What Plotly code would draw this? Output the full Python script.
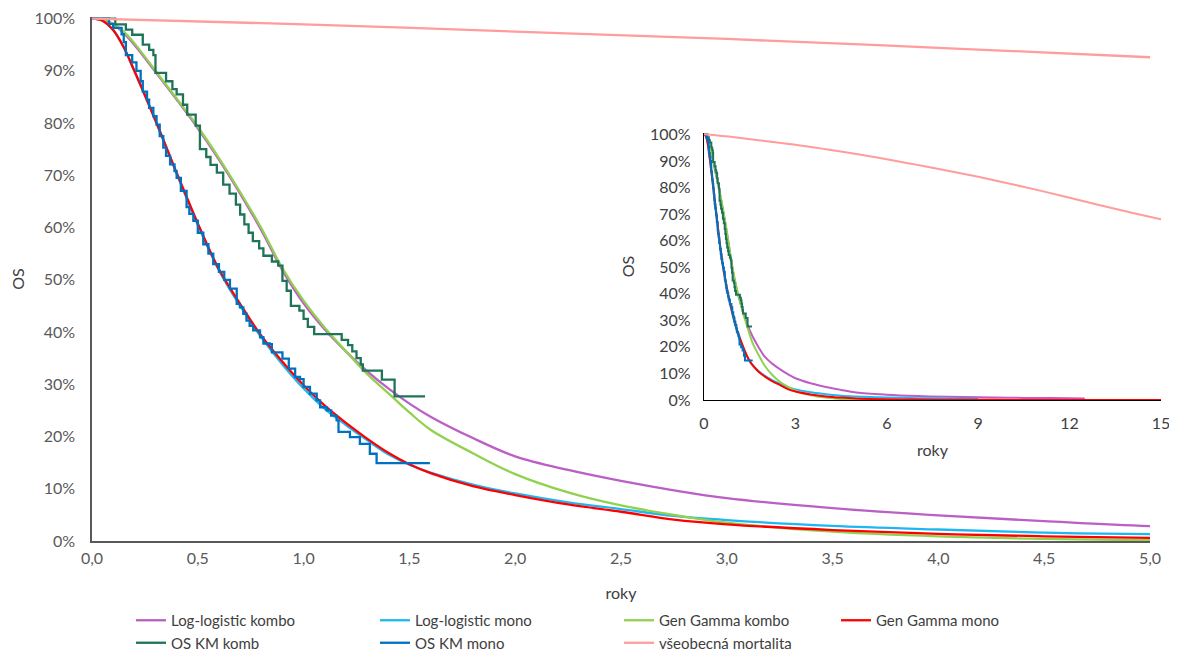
import plotly.graph_objects as go

# ---------------- data (survival in %) ----------------
t_fit = [0, 0.05, 0.1, 0.15, 0.2, 0.3, 0.4, 0.5, 0.6, 0.7, 0.8, 0.9, 1.0, 1.1, 1.2,
         1.3, 1.4, 1.5, 1.6, 1.8, 2.0, 2.25, 2.5, 2.75, 3.0, 3.5, 4.0, 4.5, 5.0,
         6, 7, 8, 9, 10, 11, 12, 12.5, 13, 14, 15]

ll_kombo = [100, 99.8, 98.9, 97.2, 95.0, 89.8, 84.5, 79.0, 73.0, 66.5, 59.5, 51.8, 45.5, 40.5, 36.3,
            32.5, 29.2, 26.3, 23.8, 19.7, 16.2, 13.6, 11.5, 9.7, 8.2, 6.3, 4.9, 3.8, 2.85,
            2.0, 1.5, 1.2, 1.0, 0.85, 0.75, 0.65, 0.6, None, None, None]

ll_mono = [100, 99.6, 97.8, 94.5, 90.0, 80.5, 70.3, 60.5, 51.8, 45.0, 39.0, 33.8, 29.2, 25.3, 22.2,
           19.3, 16.6, 14.6, 13.1, 10.8, 9.1, 7.4, 6.1, 4.8, 4.0, 2.9, 2.2, 1.6, 1.3,
           0.95, 0.7, 0.55, 0.45, None, None, None, None, None, None, None]

gg_kombo = [100, 99.8, 99.0, 97.5, 95.3, 90.0, 84.7, 79.3, 73.3, 66.8, 59.9, 52.2, 46.0, 40.8, 36.3,
            32.0, 28.3, 24.6, 21.3, 16.8, 12.8, 9.3, 6.8, 5.0, 3.5, 1.8, 0.9, 0.4, 0.15,
            0.03, 0.0, None, None, None, None, None, None, None, None, None]

gg_mono = [100, 99.6, 97.8, 94.5, 90.0, 80.5, 70.5, 60.8, 52.0, 45.4, 39.3, 34.3, 29.8, 25.9, 22.6,
           19.6, 16.9, 14.7, 13.0, 10.5, 8.8, 7.0, 5.6, 4.1, 3.2, 2.1, 1.35, 0.9, 0.6,
           0.3, 0.15, 0.1, 0.06, 0.04, 0.03, 0.02, 0.02, 0.01, 0.01, 0.0]

t_km_komb = [0, 0.11, 0.16, 0.19, 0.24, 0.27, 0.29, 0.30, 0.35, 0.38, 0.40, 0.43, 0.45, 0.49,
             0.51, 0.54, 0.56, 0.59, 0.62, 0.65, 0.68, 0.70, 0.72, 0.74, 0.76, 0.79, 0.81,
             0.85, 0.88, 0.90, 0.92, 0.94, 0.98, 1.00, 1.02, 1.05, 1.18, 1.21, 1.23, 1.25,
             1.27, 1.28, 1.37, 1.43, 1.574]
s_km_komb = [100, 98.9, 97.9, 96.9, 95.0, 94.0, 93.0, 89.6, 88.0, 86.5, 85.5, 83.5, 81.6, 79.5,
             75.0, 73.5, 72.0, 70.5, 68.2, 66.5, 64.4, 62.5, 60.6, 59.0, 57.4, 56.0, 54.6,
             53.5, 52.7, 49.8, 47.9, 45.0, 44.1, 42.5, 41.0, 39.6, 38.5, 37.5, 36.3, 35.0,
             33.8, 32.6, 30.9, 27.7, 27.7]

t_km_mono = [0, 0.08, 0.10, 0.14, 0.15, 0.16, 0.19, 0.21, 0.23, 0.24, 0.26, 0.27, 0.29, 0.305,
             0.32, 0.337, 0.35, 0.369, 0.39, 0.40, 0.42, 0.447, 0.46, 0.479, 0.50, 0.526,
             0.55, 0.573, 0.60, 0.625, 0.652, 0.684, 0.699, 0.715, 0.73, 0.745, 0.762, 0.794,
             0.81, 0.84, 0.85, 0.90, 0.93, 0.96, 0.983, 1.0, 1.03, 1.062, 1.078, 1.109, 1.13,
             1.156, 1.165, 1.219, 1.266, 1.313, 1.345, 1.597]
s_km_mono = [100, 99.0, 98.2, 97.0, 95.5, 93.0, 91.6, 90.0, 88.0, 86.0, 84.5, 82.9, 81.3, 79.7,
             77.5, 75.3, 73.7, 72.1, 70.8, 69.5, 67.0, 63.9, 62.6, 61.3, 59.0, 56.8,
             55.0, 53.0, 51.5, 50.0, 48.3, 45.4, 44.7, 43.5, 42.2, 41.2, 40.3, 39.0,
             37.8, 37.7, 36.1, 34.9, 33.0, 31.4, 31.0, 29.5, 28.2, 26.9, 25.6, 25.0, 24.0,
             23.1, 20.9, 19.9, 18.6, 16.7, 14.9, 14.9]

t_mort = [0, 1, 2, 3, 4, 5, 6, 7, 8, 9, 10, 11, 12, 13, 14, 15]
s_mort = [100, 98.9, 97.5, 96.1, 94.4, 92.6, 90.6, 88.5, 86.3, 84.0, 81.5, 78.9, 76.1, 73.3, 70.6, 68.0]

# ---------------- styling ----------------
series = [
    ("Log-logistic kombo", t_fit, ll_kombo, "#BB5EC6", "spline", "legend"),
    ("Log-logistic mono", t_fit, ll_mono, "#1DB8F2", "spline", "legend2"),
    ("Gen Gamma kombo", t_fit, gg_kombo, "#92D050", "spline", "legend3"),
    ("Gen Gamma mono", t_fit, gg_mono, "#FF0000", "spline", "legend4"),
    ("OS KM komb", t_km_komb, s_km_komb, "#1E7458", "hv", "legend"),
    ("OS KM mono", t_km_mono, s_km_mono, "#0070C0", "hv", "legend2"),
    ("všeobecná mortalita", t_mort, s_mort, "#FF9C9C", "spline", "legend3"),
]

FONT = "Lato"
TXT = "#595959"
FS = 16

fig = go.Figure()
for name, t, s, col, shape, leg in series:
    fig.add_trace(go.Scatter(x=t, y=s, mode="lines", name=name, legend=leg,
                             line=dict(color=col, width=2.3, shape=shape),
                             xaxis="x", yaxis="y", hoverinfo="skip"))
for name, t, s, col, shape, leg in series:
    fig.add_trace(go.Scatter(x=t, y=s, mode="lines", name=name, showlegend=False,
                             line=dict(color=col, width=2.0, shape=shape),
                             xaxis="x2", yaxis="y2", hoverinfo="skip"))

# page has an 8px body margin: figure spans page pixels 8..1177 / 8..651
OFF = 8
W, H = 1169, 643
ml, mr, mt, mb = 84, 16, 9, 110
pw = W - ml - mr
ph = H - mt - mb

def px_x(p):
    return (p - OFF - ml) / pw

def px_y(p):
    return (H - mb - (p - OFF)) / ph

leg_common = dict(orientation="v", yanchor="top", xanchor="left",
                  font=dict(family=FONT, size=15, color="#404040"),
                  bgcolor="rgba(0,0,0,0)", tracegroupgap=0, itemwidth=30)
legend_y = px_y(604)

fig.update_layout(
    width=W, height=H, autosize=False,
    margin=dict(l=ml, r=mr, t=mt, b=mb, autoexpand=False),
    paper_bgcolor="white", plot_bgcolor="white",
    separators=", ",
    font=dict(family=FONT, size=FS, color=TXT),
    legend=dict(x=px_x(131), y=legend_y, **leg_common),
    legend2=dict(x=px_x(375), y=legend_y, **leg_common),
    legend3=dict(x=px_x(619), y=legend_y, **leg_common),
    legend4=dict(x=px_x(836), y=legend_y, **leg_common),
    xaxis=dict(domain=[0, px_x(1150)], range=[0, 5], tick0=0, dtick=0.5,
               tickformat=".1f", showline=True, linecolor="#595959", linewidth=1.5,
               showgrid=False, zeroline=False, ticks="", ticklabelstandoff=2, automargin=False,
               tickfont=dict(family=FONT, size=FS, color=TXT),
               title=dict(text="roky", standoff=22, font=dict(family=FONT, size=FS, color="#404040"))),
    yaxis=dict(domain=[0, 1], range=[0, 100.3], tick0=0, dtick=10, ticksuffix="%",
               showline=True, linecolor="#595959", linewidth=1.5, automargin=False,
               showgrid=False, zeroline=False, ticks="", ticklabelstandoff=12,
               tickfont=dict(family=FONT, size=FS, color=TXT),
               title=dict(text="OS", standoff=21, font=dict(family=FONT, size=FS, color="#404040"))),
    xaxis2=dict(domain=[px_x(704), px_x(1161)], anchor="y2", range=[0, 15], tick0=0, dtick=3,
                showline=True, linecolor="#000000", linewidth=1.2, automargin=False,
                showgrid=False, zeroline=False, ticks="", ticklabelstandoff=9,
                tickfont=dict(family=FONT, size=FS, color="#404040"),
                title=dict(text="roky", standoff=13, font=dict(family=FONT, size=FS, color="#404040"))),
    yaxis2=dict(domain=[px_y(400), px_y(133)], anchor="x2", range=[0, 100.5], tick0=0, dtick=10,
                ticksuffix="%", showline=True, linecolor="#000000", linewidth=1.2, automargin=False,
                showgrid=False, zeroline=False, ticks="", ticklabelstandoff=9,
                tickfont=dict(family=FONT, size=FS, color="#404040"),
                title=dict(text="OS", standoff=11, font=dict(family=FONT, size=FS, color="#404040"))),
)

fig.write_html("out.html")
